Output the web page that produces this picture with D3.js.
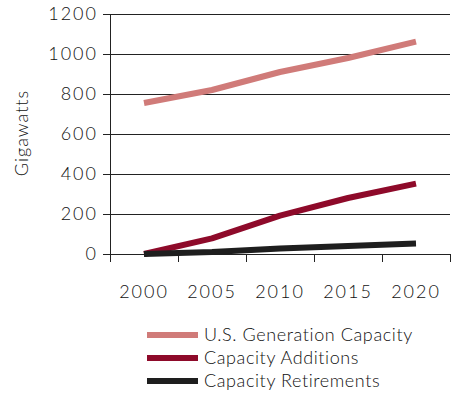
<!DOCTYPE html>
<html>
<head>
<meta charset="utf-8">
<script src="https://cdn.jsdelivr.net/npm/d3@7"></script>
<style>
	body { margin: 0; background: #fff; }
	svg text { font-family: "Lato", "Noto Sans", sans-serif; font-weight: 300; fill: #111; }
</style>
</head>
<body>
<div id="chart"></div>
<script>
const years = ['2000', '2005', '2010', '2015', '2020'];
const generation = [755, 820, 910, 980, 1062];
const additions = [0, 78, 192, 280, 352];
const retirements = [0, 10, 28, 40, 52];
const yTicks = [0, 200, 400, 600, 800, 1000, 1200];

const seriesNames = ['U.S. Generation Capacity', 'Capacity Additions', 'Capacity Retirements'];
const seriesColors = ['#d07b79', '#8e0a2a', '#1e1e1e'];

let margin = { top: 14, right: 2, bottom: 140, left: 110 };
let width = 452 - margin.left - margin.right;
let height = 394 - margin.top - margin.bottom;

let svg = d3.select('#chart').append('svg')
		.attr('width', 452)
		.attr('height', 394)
	.append('g')
		.attr('transform', 'translate(' + margin.left + ',' + margin.top + ')');

let x = d3.scaleBand().domain(years).range([0, 340]);
let y = d3.scaleLinear().domain([0, 1200]).range([height, 0]);

// gridlines
svg.selectAll('.grid')
		.data(yTicks)
	.enter().append('line')
		.attr('x1', 0)
		.attr('x2', width)
		.attr('y1', (d) => y(d) + 0.5)
		.attr('y2', (d) => y(d) + 0.5)
		.attr('stroke', '#222')
		.attr('stroke-width', 1);

let yAxis = svg.append('g')
	.call(d3.axisLeft(y).tickValues(yTicks).tickSize(7).tickPadding(5).tickFormat(d3.format('d')));
yAxis.select('.domain').attr('stroke', '#222');
yAxis.selectAll('.tick line').attr('stroke', '#222');
yAxis.selectAll('text').style('font-size', '18px').style('letter-spacing', '2px').attr('fill', '#111');

let xAxis = svg.append('g')
	.attr('transform', 'translate(0,' + height + ')')
	.call(d3.axisBottom(x).tickSize(0).tickPadding(31));
xAxis.select('.domain').remove();
xAxis.selectAll('text').style('font-size', '18px').style('letter-spacing', '2px').attr('fill', '#111');

// x ticks at band edges
svg.selectAll('.xtick')
		.data(years.concat(['end']))
	.enter().append('line')
		.attr('x1', (d, i) => i * x.bandwidth() + 0.5)
		.attr('x2', (d, i) => i * x.bandwidth() + 0.5)
		.attr('y1', height)
		.attr('y2', height + 8)
		.attr('stroke', '#222');

let line = d3.line()
	.x((d, i) => x(years[i]) + x.bandwidth() / 2)
	.y((d) => y(d));

[generation, additions, retirements].forEach((s, i) => {
	svg.append('path')
		.datum(s)
		.attr('d', line)
		.attr('fill', 'none')
		.attr('stroke', seriesColors[i])
		.attr('stroke-width', 6)
		.attr('stroke-linejoin', 'round');
});

svg.append('text')
	.attr('transform', 'translate(' + (28 - margin.left) + ',' + (133 - margin.top) + ') rotate(-90)')
	.attr('text-anchor', 'middle')
	.style('font-size', '18px')
	.style('letter-spacing', '1px')
	.text('Gigawatts');

// legend
let legend = svg.append('g').attr('transform', 'translate(' + (147 - margin.left) + ',' + (335 - margin.top) + ')');
seriesNames.forEach((name, i) => {
	legend.append('rect')
		.attr('x', 0)
		.attr('y', i * 23 - 3)
		.attr('width', 51)
		.attr('height', 6)
		.attr('fill', seriesColors[i]);
	legend.append('text')
		.attr('x', 57)
		.attr('y', i * 23)
		.attr('dy', '0.35em')
		.style('font-size', '18px')
		.style('letter-spacing', '0.6px')
		.text(name);
});
</script>
</body>
</html>
